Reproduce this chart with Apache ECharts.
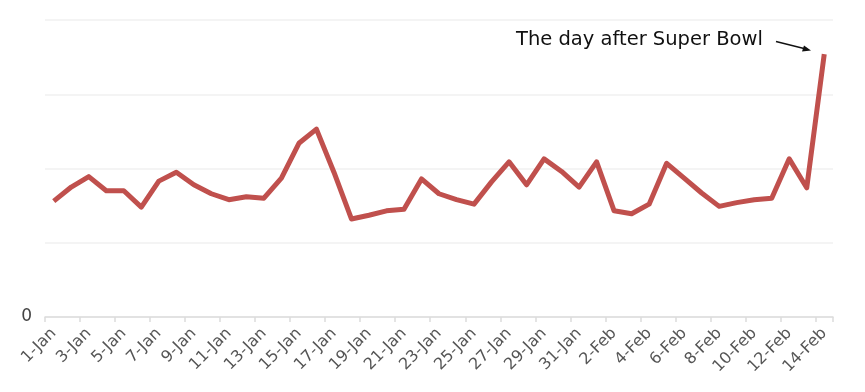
<!DOCTYPE html>
<html>
<head>
<meta charset="utf-8">
<script src="https://cdn.jsdelivr.net/npm/echarts@6/dist/echarts.min.js"></script>
<style>
html,body{margin:0;padding:0;background:#fff;}
#chart{width:865px;height:392px;}
</style>
</head>
<body>
<div id="chart"></div>
<script>
var categories = ['1-Jan','2-Jan','3-Jan','4-Jan','5-Jan','6-Jan','7-Jan','8-Jan','9-Jan','10-Jan','11-Jan','12-Jan','13-Jan','14-Jan','15-Jan','16-Jan','17-Jan','18-Jan','19-Jan','20-Jan','21-Jan','22-Jan','23-Jan','24-Jan','25-Jan','26-Jan','27-Jan','28-Jan','29-Jan','30-Jan','31-Jan','1-Feb','2-Feb','3-Feb','4-Feb','5-Feb','6-Feb','7-Feb','8-Feb','9-Feb','10-Feb','11-Feb','12-Feb','13-Feb','14-Feb'];
var values = [156,175,189,170,170,148,183,195,178,166,158,162,160,187,234,253,195,132,137,143,145,186,166,158,152,182,209,178,213,196,175,209,143,139,152,207,187,167,149,154,158,160,213,174,354];
var yTicks = [0,100,200,300,400];
var annotationText = 'The day after Super Bowl';

var chart = echarts.init(document.getElementById('chart'), null, {renderer:'canvas'});
chart.setOption({
  animation:false,
  backgroundColor:'#ffffff',
  grid:{left:45,right:32,top:20,bottom:75},
  xAxis:{
    type:'category',
    data:categories,
    boundaryGap:true,
    axisLine:{lineStyle:{color:'#dcdcdc',width:1.5}},
    axisTick:{show:true,interval:1,length:5,lineStyle:{color:'#dcdcdc',width:1.5}},
    axisLabel:{interval:1,rotate:45,color:'#555',fontFamily:'DejaVu Sans',fontSize:16,margin:14}
  },
  yAxis:{
    type:'value',
    min:yTicks[0],max:yTicks[yTicks.length-1],interval:100,
    axisLine:{show:false},axisTick:{show:false},
    splitLine:{lineStyle:{color:'#f0f0f0',width:1.5}},
    axisLabel:{color:'#444',fontFamily:'DejaVu Sans',fontSize:17,margin:13,
      formatter:function(v){return v===0?'0':'';}}
  },
  series:[{
    type:'line',
    data:values,
    symbol:'none',
    lineStyle:{color:'#c0504d',width:5,join:'round'},
    itemStyle:{color:'#c0504d'}
  }],
  graphic:[
    {type:'text',left:516,top:30,style:{text:annotationText,fontFamily:'DejaVu Sans',fontSize:19.5,fill:'#111'}},
    {type:'line',shape:{x1:776,y1:41.5,x2:806,y2:49},style:{stroke:'#111',lineWidth:1.3}},
    {type:'polygon',shape:{points:[[811,50.5],[802,51.5],[804,45.5]]},style:{fill:'#111'}}
  ]
});
</script>
</body>
</html>
